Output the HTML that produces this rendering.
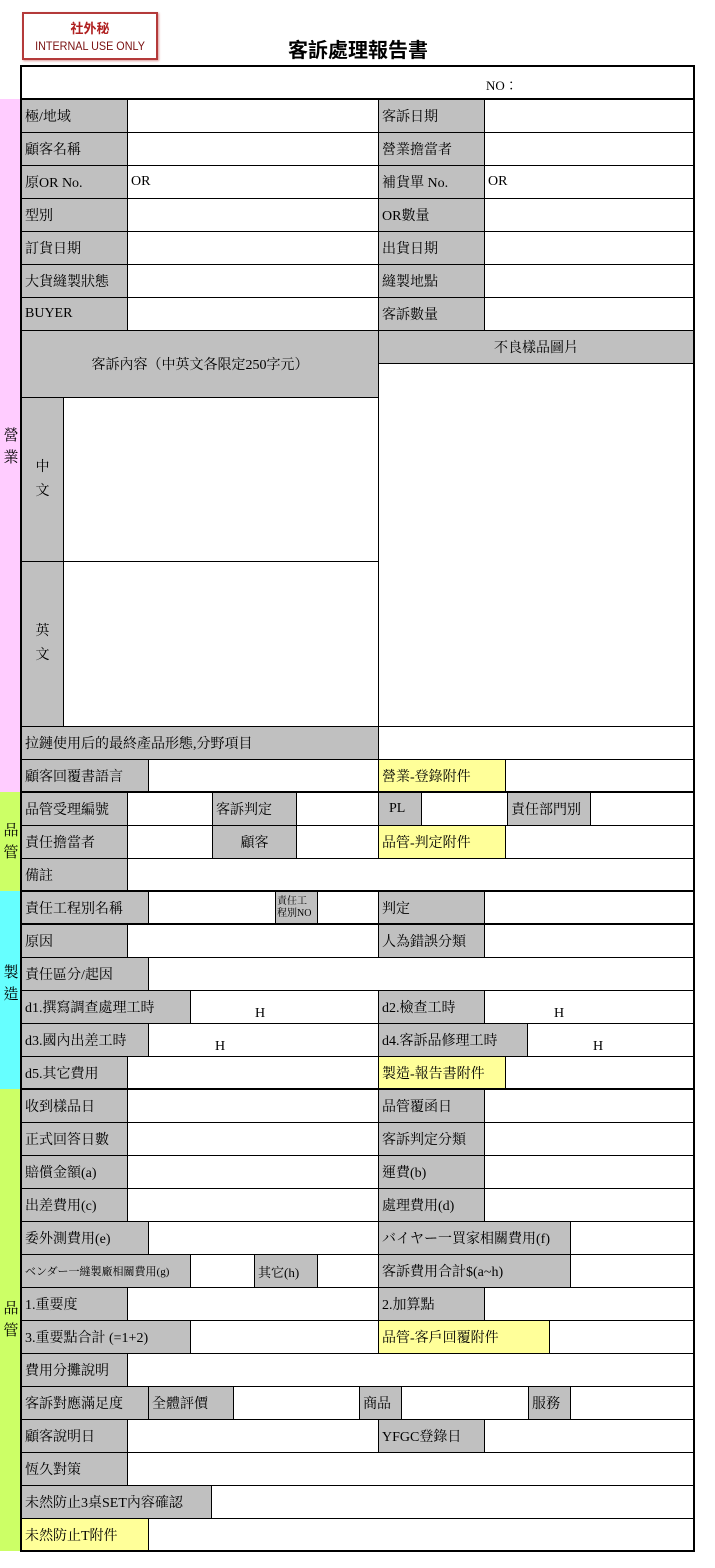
<!DOCTYPE html>
<html><head><meta charset="utf-8"><style>
*{margin:0;padding:0;box-sizing:border-box}
body{width:715px;height:1568px;background:#fff;position:relative;overflow:hidden;font-family:"Liberation Serif","Noto Serif CJK TC","Noto Sans CJK TC",serif;font-size:14px;color:#000}
.c{position:absolute;border:1px solid #000;background:#fff;padding-left:3px;display:flex;align-items:center;white-space:nowrap;overflow:hidden}
.g{background:#c0c0c0}
.y{background:#ffff99}
.ctr{justify-content:center;padding-left:0}
.bar{position:absolute;left:0;width:21px}
.t{position:absolute;background:#000}
.side{position:absolute;left:2px;width:18px;font-size:15px;line-height:22px;text-align:center}
</style></head><body>
<div style="position:absolute;left:22px;top:12px;width:136px;height:48px;border:2px solid #b43a3a;box-shadow:1px 1px 2px #d99"></div>
<div style="position:absolute;left:22px;top:18px;width:136px;text-align:center;color:#b02020;font-weight:bold;font-size:13px;font-family:'Noto Sans CJK TC',sans-serif">社外秘</div>
<div style="position:absolute;left:22px;top:39px;width:136px;text-align:center;color:#7a1010;font-size:12px;font-family:'Liberation Sans',sans-serif;transform:scaleX(0.9)">INTERNAL USE ONLY</div>
<div style="position:absolute;left:258px;top:34px;width:200px;text-align:center;font-size:20px;font-weight:bold;font-family:'Noto Sans CJK TC',sans-serif">客訴處理報告書</div>

<div class="bar" style="top:99px;height:693px;background:#ffccff"></div>
<div class="bar" style="top:792px;height:99px;background:#ccff66"></div>
<div class="bar" style="top:891px;height:198px;background:#66ffff"></div>
<div class="bar" style="top:1089px;height:462px;background:#ccff66"></div>
<div class="side" style="top:425px">營<br>業</div>
<div class="side" style="top:820px">品<br>管</div>
<div class="side" style="top:962px">製<br>造</div>
<div class="side" style="top:1298px">品<br>管</div>

<div class="c" style="left:21px;top:66px;width:673px;height:34px;"></div>
<div style="position:absolute;left:486px;top:75px;font-size:13px">NO：</div>

<!-- standard rows -->
<div class="c g" style="left:21px;top:99px;width:107px;height:34px">極/地域</div><div class="c" style="left:127px;top:99px;width:252px;height:34px"></div><div class="c g" style="left:378px;top:99px;width:107px;height:34px">客訴日期</div><div class="c" style="left:484px;top:99px;width:210px;height:34px"></div>
<div class="c g" style="left:21px;top:132px;width:107px;height:34px">顧客名稱</div><div class="c" style="left:127px;top:132px;width:252px;height:34px"></div><div class="c g" style="left:378px;top:132px;width:107px;height:34px">營業擔當者</div><div class="c" style="left:484px;top:132px;width:210px;height:34px"></div>
<div class="c g" style="left:21px;top:165px;width:107px;height:34px">原OR No.</div><div class="c" style="left:127px;top:165px;width:252px;height:34px">OR</div><div class="c g" style="left:378px;top:165px;width:107px;height:34px">補貨單 No.</div><div class="c" style="left:484px;top:165px;width:210px;height:34px">OR</div>
<div class="c g" style="left:21px;top:198px;width:107px;height:34px">型別</div><div class="c" style="left:127px;top:198px;width:252px;height:34px"></div><div class="c g" style="left:378px;top:198px;width:107px;height:34px">OR數量</div><div class="c" style="left:484px;top:198px;width:210px;height:34px"></div>
<div class="c g" style="left:21px;top:231px;width:107px;height:34px">訂貨日期</div><div class="c" style="left:127px;top:231px;width:252px;height:34px"></div><div class="c g" style="left:378px;top:231px;width:107px;height:34px">出貨日期</div><div class="c" style="left:484px;top:231px;width:210px;height:34px"></div>
<div class="c g" style="left:21px;top:264px;width:107px;height:34px">大貨縫製狀態</div><div class="c" style="left:127px;top:264px;width:252px;height:34px"></div><div class="c g" style="left:378px;top:264px;width:107px;height:34px">縫製地點</div><div class="c" style="left:484px;top:264px;width:210px;height:34px"></div>
<div class="c g" style="left:21px;top:297px;width:107px;height:34px">BUYER</div><div class="c" style="left:127px;top:297px;width:252px;height:34px"></div><div class="c g" style="left:378px;top:297px;width:107px;height:34px">客訴數量</div><div class="c" style="left:484px;top:297px;width:210px;height:34px"></div>

<div class="c g ctr" style="left:21px;top:330px;width:358px;height:68px">客訴內容（中英文各限定250字元）</div>
<div class="c g ctr" style="left:378px;top:330px;width:316px;height:34px">不良樣品圖片</div>
<div class="c" style="left:378px;top:363px;width:316px;height:364px"></div>
<div class="c g ctr" style="left:21px;top:397px;width:43px;height:165px;line-height:24px;white-space:normal;text-align:center">中<br>文</div>
<div class="c" style="left:63px;top:397px;width:316px;height:165px"></div>
<div class="c g ctr" style="left:21px;top:561px;width:43px;height:166px;line-height:24px;white-space:normal;text-align:center">英<br>文</div>
<div class="c" style="left:63px;top:561px;width:316px;height:166px"></div>
<div class="c g" style="left:21px;top:726px;width:358px;height:34px">拉鏈使用后的最終產品形態,分野項目</div><div class="c" style="left:378px;top:726px;width:316px;height:34px"></div>
<div class="c g" style="left:21px;top:759px;width:128px;height:34px">顧客回覆書語言</div><div class="c" style="left:148px;top:759px;width:231px;height:34px"></div><div class="c y" style="left:378px;top:759px;width:128px;height:34px">營業-登錄附件</div><div class="c" style="left:505px;top:759px;width:189px;height:34px"></div>

<div class="c g" style="left:21px;top:792px;width:107px;height:34px">品管受理編號</div><div class="c" style="left:127px;top:792px;width:86px;height:34px"></div><div class="c g" style="left:212px;top:792px;width:85px;height:34px">客訴判定</div><div class="c" style="left:296px;top:792px;width:83px;height:34px"></div><div class="c g" style="left:378px;top:792px;width:44px;height:34px;padding-left:10px">PL</div><div class="c" style="left:421px;top:792px;width:87px;height:34px"></div><div class="c g" style="left:507px;top:792px;width:84px;height:34px">責任部門別</div><div class="c" style="left:590px;top:792px;width:104px;height:34px"></div>
<div class="c g" style="left:21px;top:825px;width:107px;height:34px">責任擔當者</div><div class="c" style="left:127px;top:825px;width:86px;height:34px"></div><div class="c g ctr" style="left:212px;top:825px;width:85px;height:34px">顧客</div><div class="c" style="left:296px;top:825px;width:83px;height:34px"></div><div class="c y" style="left:378px;top:825px;width:128px;height:34px">品管-判定附件</div><div class="c" style="left:505px;top:825px;width:189px;height:34px"></div>
<div class="c g" style="left:21px;top:858px;width:107px;height:34px">備註</div><div class="c" style="left:127px;top:858px;width:567px;height:34px"></div>

<div class="c g" style="left:21px;top:891px;width:128px;height:34px">責任工程別名稱</div><div class="c" style="left:148px;top:891px;width:128px;height:34px"></div><div class="c g" style="left:275px;top:891px;width:43px;height:34px;font-size:10px;line-height:12px;white-space:normal;padding-left:1px">責任工<br>程別NO</div><div class="c" style="left:317px;top:891px;width:62px;height:34px"></div><div class="c g" style="left:378px;top:891px;width:107px;height:34px">判定</div><div class="c" style="left:484px;top:891px;width:210px;height:34px"></div>
<div class="c g" style="left:21px;top:924px;width:107px;height:34px">原因</div><div class="c" style="left:127px;top:924px;width:252px;height:34px"></div><div class="c g" style="left:378px;top:924px;width:107px;height:34px">人為錯誤分類</div><div class="c" style="left:484px;top:924px;width:210px;height:34px"></div>
<div class="c g" style="left:21px;top:957px;width:128px;height:34px">責任區分/起因</div><div class="c" style="left:148px;top:957px;width:546px;height:34px"></div>
<div class="c g" style="left:21px;top:990px;width:170px;height:34px">d1.撰寫調查處理工時</div><div class="c" style="left:190px;top:990px;width:189px;height:34px;padding-left:64px;padding-top:14px">H</div><div class="c g" style="left:378px;top:990px;width:107px;height:34px">d2.檢查工時</div><div class="c" style="left:484px;top:990px;width:210px;height:34px;padding-left:69px;padding-top:14px">H</div>
<div class="c g" style="left:21px;top:1023px;width:128px;height:34px">d3.國內出差工時</div><div class="c" style="left:148px;top:1023px;width:231px;height:34px;padding-left:66px;padding-top:14px">H</div><div class="c g" style="left:378px;top:1023px;width:150px;height:34px">d4.客訴品修理工時</div><div class="c" style="left:527px;top:1023px;width:167px;height:34px;padding-left:65px;padding-top:14px">H</div>
<div class="c g" style="left:21px;top:1056px;width:107px;height:34px">d5.其它費用</div><div class="c" style="left:127px;top:1056px;width:252px;height:34px"></div><div class="c y" style="left:378px;top:1056px;width:128px;height:34px">製造-報告書附件</div><div class="c" style="left:505px;top:1056px;width:189px;height:34px"></div>

<div class="c g" style="left:21px;top:1089px;width:107px;height:34px">收到樣品日</div><div class="c" style="left:127px;top:1089px;width:252px;height:34px"></div><div class="c g" style="left:378px;top:1089px;width:107px;height:34px">品管覆函日</div><div class="c" style="left:484px;top:1089px;width:210px;height:34px"></div>
<div class="c g" style="left:21px;top:1122px;width:107px;height:34px">正式回答日數</div><div class="c" style="left:127px;top:1122px;width:252px;height:34px"></div><div class="c g" style="left:378px;top:1122px;width:107px;height:34px">客訴判定分類</div><div class="c" style="left:484px;top:1122px;width:210px;height:34px"></div>
<div class="c g" style="left:21px;top:1155px;width:107px;height:34px">賠償金額(a)</div><div class="c" style="left:127px;top:1155px;width:252px;height:34px"></div><div class="c g" style="left:378px;top:1155px;width:107px;height:34px">運費(b)</div><div class="c" style="left:484px;top:1155px;width:210px;height:34px"></div>
<div class="c g" style="left:21px;top:1188px;width:107px;height:34px">出差費用(c)</div><div class="c" style="left:127px;top:1188px;width:252px;height:34px"></div><div class="c g" style="left:378px;top:1188px;width:107px;height:34px">處理費用(d)</div><div class="c" style="left:484px;top:1188px;width:210px;height:34px"></div>
<div class="c g" style="left:21px;top:1221px;width:128px;height:34px">委外測費用(e)</div><div class="c" style="left:148px;top:1221px;width:231px;height:34px"></div><div class="c g" style="left:378px;top:1221px;width:193px;height:34px">バイヤー一買家相關費用(f)</div><div class="c" style="left:570px;top:1221px;width:124px;height:34px"></div>
<div class="c g" style="left:21px;top:1254px;width:170px;height:34px;font-size:11px">ベンダー一縫製廠相關費用(g)</div><div class="c" style="left:190px;top:1254px;width:65px;height:34px"></div><div class="c g" style="left:254px;top:1254px;width:64px;height:34px;font-size:13px">其它(h)</div><div class="c" style="left:317px;top:1254px;width:62px;height:34px"></div><div class="c g" style="left:378px;top:1254px;width:193px;height:34px">客訴費用合計$(a~h)</div><div class="c" style="left:570px;top:1254px;width:124px;height:34px"></div>
<div class="c g" style="left:21px;top:1287px;width:107px;height:34px">1.重要度</div><div class="c" style="left:127px;top:1287px;width:252px;height:34px"></div><div class="c g" style="left:378px;top:1287px;width:107px;height:34px">2.加算點</div><div class="c" style="left:484px;top:1287px;width:210px;height:34px"></div>
<div class="c g" style="left:21px;top:1320px;width:170px;height:34px">3.重要點合計 (=1+2)</div><div class="c" style="left:190px;top:1320px;width:189px;height:34px"></div><div class="c y" style="left:378px;top:1320px;width:172px;height:34px">品管-客戶回覆附件</div><div class="c" style="left:549px;top:1320px;width:145px;height:34px"></div>
<div class="c g" style="left:21px;top:1353px;width:107px;height:34px">費用分攤說明</div><div class="c" style="left:127px;top:1353px;width:567px;height:34px"></div>
<div class="c g" style="left:21px;top:1386px;width:128px;height:34px">客訴對應滿足度</div><div class="c g" style="left:148px;top:1386px;width:86px;height:34px">全體評價</div><div class="c" style="left:233px;top:1386px;width:127px;height:34px"></div><div class="c g" style="left:359px;top:1386px;width:43px;height:34px">商品</div><div class="c" style="left:401px;top:1386px;width:128px;height:34px"></div><div class="c g" style="left:528px;top:1386px;width:43px;height:34px">服務</div><div class="c" style="left:570px;top:1386px;width:124px;height:34px"></div>
<div class="c g" style="left:21px;top:1419px;width:107px;height:34px">顧客說明日</div><div class="c" style="left:127px;top:1419px;width:252px;height:34px"></div><div class="c g" style="left:378px;top:1419px;width:107px;height:34px">YFGC登錄日</div><div class="c" style="left:484px;top:1419px;width:210px;height:34px"></div>
<div class="c g" style="left:21px;top:1452px;width:107px;height:34px">恆久對策</div><div class="c" style="left:127px;top:1452px;width:567px;height:34px"></div>
<div class="c g" style="left:21px;top:1485px;width:191px;height:34px">未然防止3桌SET內容確認</div><div class="c" style="left:211px;top:1485px;width:483px;height:34px"></div>
<div class="c y" style="left:21px;top:1518px;width:128px;height:34px">未然防止T附件</div><div class="c" style="left:148px;top:1518px;width:546px;height:34px"></div>

<!-- thick lines -->
<div class="t" style="left:20px;top:65px;width:675px;height:2px"></div>
<div class="t" style="left:20px;top:98px;width:675px;height:2px"></div>
<div class="t" style="left:20px;top:791px;width:675px;height:2px"></div>
<div class="t" style="left:20px;top:890px;width:675px;height:2px"></div>
<div class="t" style="left:20px;top:923px;width:675px;height:2px"></div>
<div class="t" style="left:20px;top:1088px;width:675px;height:2px"></div>
<div class="t" style="left:20px;top:1550px;width:675px;height:2px"></div>
<div class="t" style="left:20px;top:65px;width:2px;height:1487px"></div>
<div class="t" style="left:693px;top:65px;width:2px;height:1487px"></div>
</body></html>
